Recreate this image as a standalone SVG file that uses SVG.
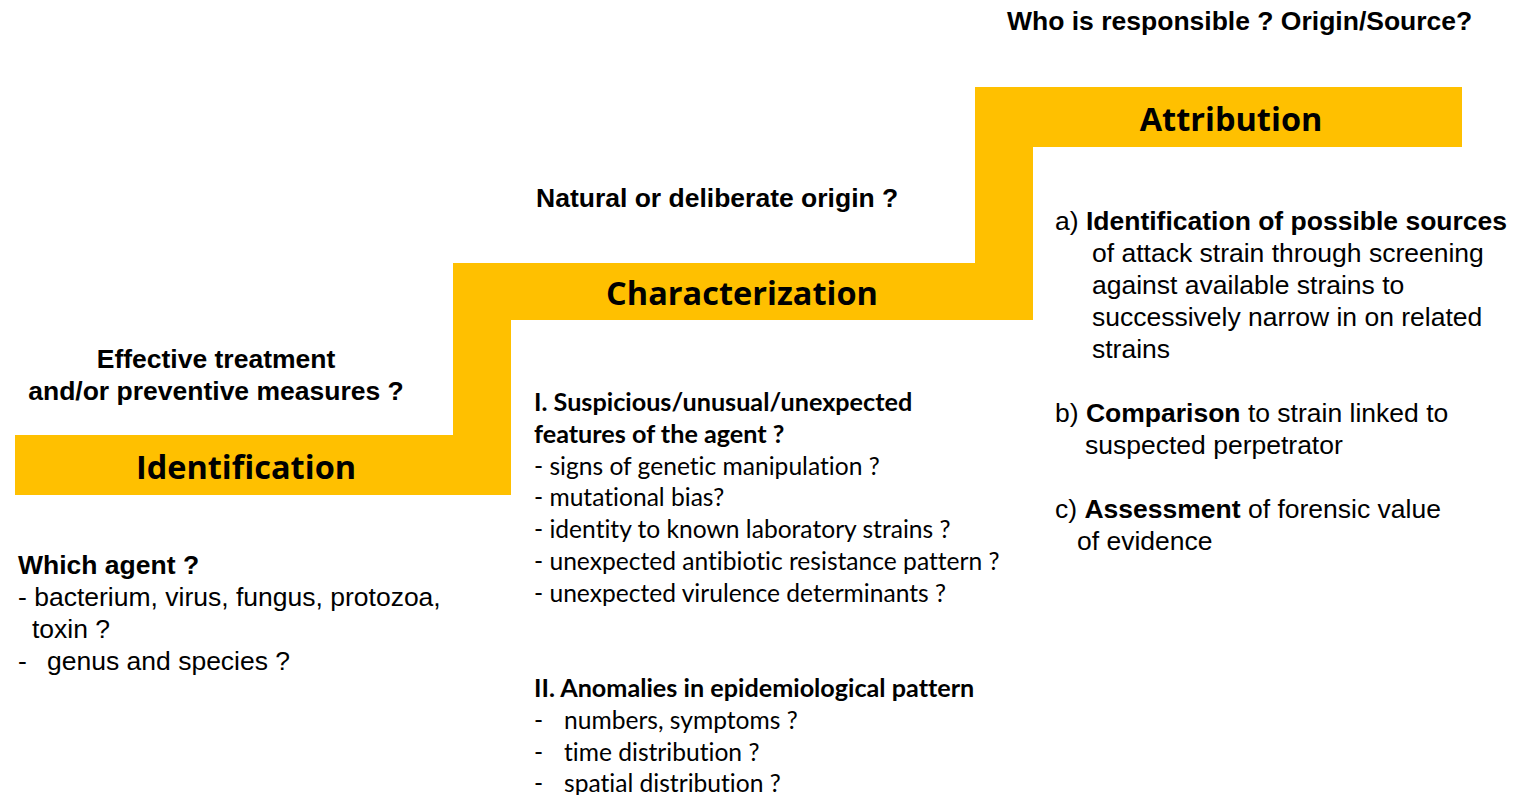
<svg xmlns="http://www.w3.org/2000/svg" width="1514" height="795" viewBox="0 0 1514 795">
<style>
.step{fill:#FFC000;}
.title{font-family:"Open Sans","Lato",sans-serif;font-weight:bold;font-size:32.5px;fill:#000;text-anchor:middle;}
.a{font-family:"Liberation Sans",Arial,sans-serif;font-size:26.5px;fill:#000;}
.ab{font-family:"Liberation Sans",Arial,sans-serif;font-size:26.5px;font-weight:bold;fill:#000;}
.c{font-family:"Lato","Open Sans",sans-serif;font-size:24.6px;fill:#000;font-variant-ligatures:none;}
.cb{font-family:"Lato","Open Sans",sans-serif;font-size:25.2px;font-weight:bold;fill:#000;font-variant-ligatures:none;}
</style>
<rect width="1514" height="795" fill="#fff"/>
<g id="stairs">
<polygon class="step" points="15,435 453,435 453,263 975,263 975,87 1462,87 1462,147 1033,147 1033,320 511,320 511,495 15,495"/>
</g>
<g id="identification">
<text class="title" x="246" y="479">Identification</text>
<text class="ab" x="216" y="368" text-anchor="middle">Effective treatment</text>
<text class="ab" x="216" y="400" text-anchor="middle">and/or preventive measures ?</text>
<text class="ab" x="18" y="574">Which agent ?</text>
<text class="a" x="18" y="606">- bacterium, virus, fungus, protozoa,</text>
<text class="a" x="32" y="638">toxin ?</text>
<text class="a" x="18" y="670">-</text>
<text class="a" x="47" y="670">genus and species ?</text>
</g>
<g id="characterization">
<text class="title" x="742" y="305">Characterization</text>
<text class="ab" x="536" y="207">Natural or deliberate origin ?</text>
<text class="cb" x="534" y="411">I. Suspicious/unusual/unexpected</text>
<text class="cb" x="534" y="443">features of the agent ?</text>
<text class="c" x="534" y="475">- signs of genetic manipulation ?</text>
<text class="c" x="534" y="506">- mutational bias?</text>
<text class="c" x="534" y="538">- identity to known laboratory strains ?</text>
<text class="c" x="534" y="570">- unexpected antibiotic resistance pattern ?</text>
<text class="c" x="534" y="602">- unexpected virulence determinants ?</text>
<text class="cb" x="534" y="697">II. Anomalies in epidemiological pattern</text>
<text class="c" x="534" y="729">-</text><text class="c" x="564" y="729">numbers, symptoms ?</text>
<text class="c" x="534" y="761">-</text><text class="c" x="564" y="761">time distribution ?</text>
<text class="c" x="534" y="792">-</text><text class="c" x="564" y="792">spatial distribution ?</text>
</g>
<g id="attribution">
<text class="title" x="1231" y="131">Attribution</text>
<text class="ab" x="1007" y="30">Who is responsible ? Origin/Source?</text>
<text class="a" x="1055" y="230">a) <tspan font-weight="bold">Identification of possible sources</tspan></text>
<text class="a" x="1092" y="262">of attack strain through screening</text>
<text class="a" x="1092" y="294">against available strains to</text>
<text class="a" x="1092" y="326">successively narrow in on related</text>
<text class="a" x="1092" y="358">strains</text>
<text class="a" x="1055" y="422">b) <tspan font-weight="bold">Comparison</tspan> to strain linked to</text>
<text class="a" x="1085" y="454">suspected perpetrator</text>
<text class="a" x="1055" y="518">c) <tspan font-weight="bold">Assessment</tspan> of forensic value</text>
<text class="a" x="1077" y="550">of evidence</text>
</g>
</svg>
